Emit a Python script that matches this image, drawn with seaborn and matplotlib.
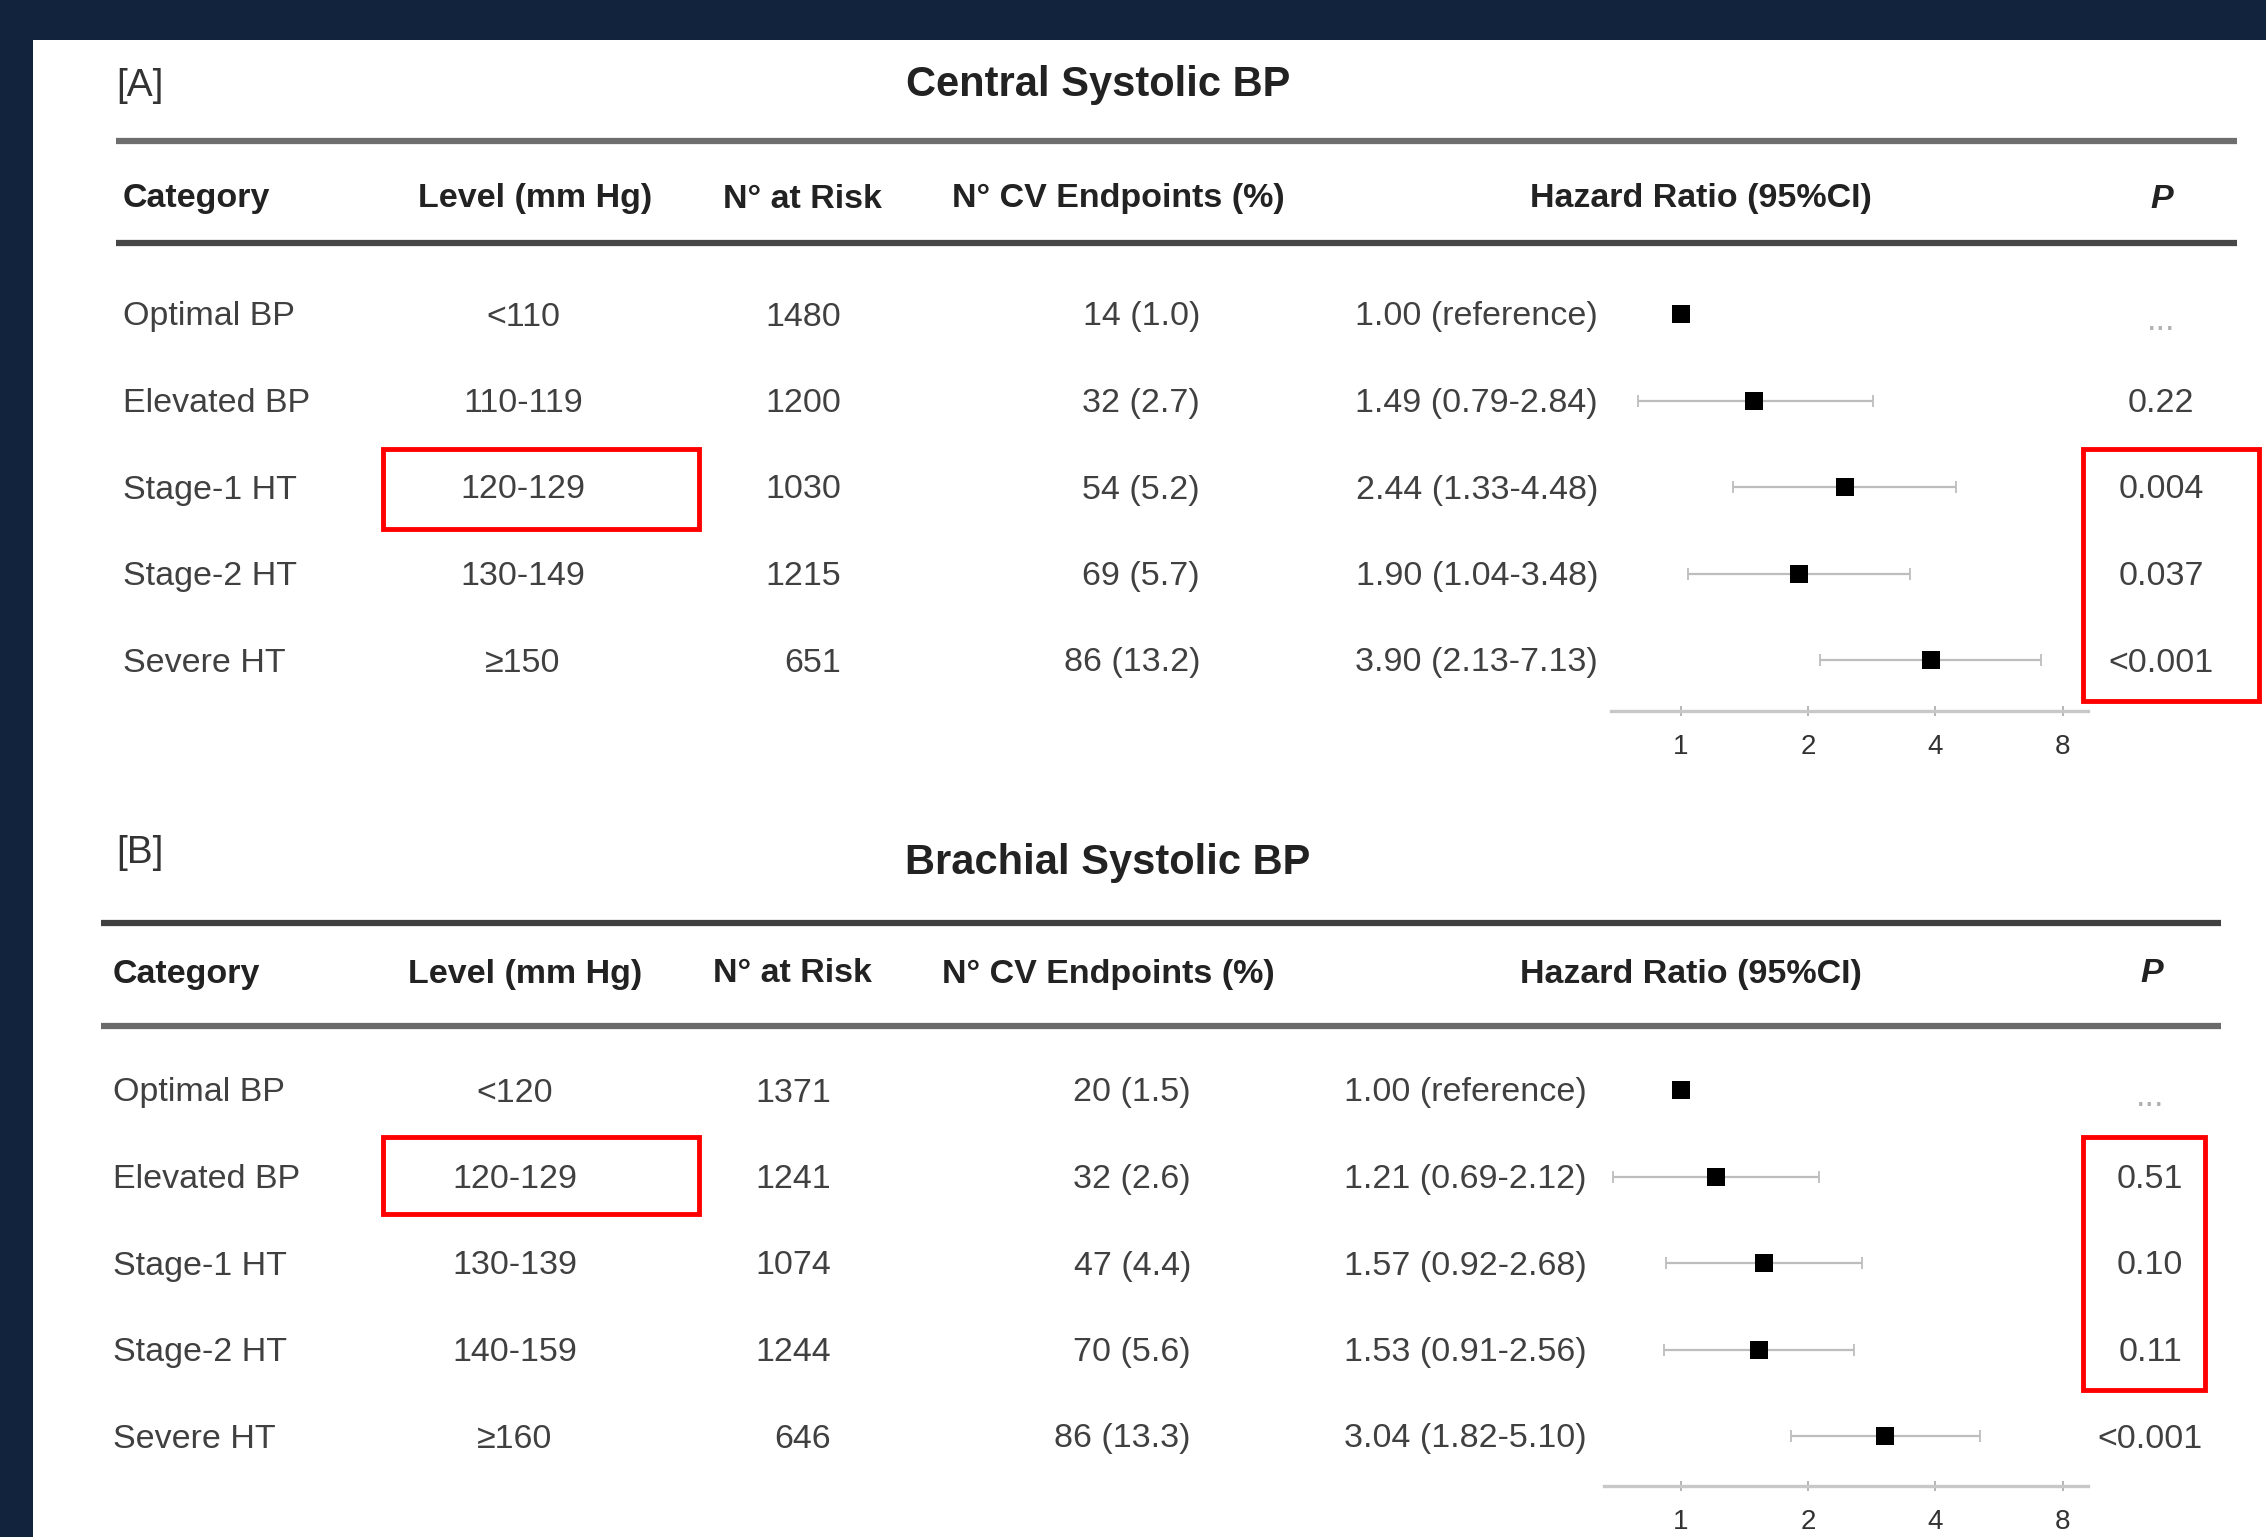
import numpy as np
import pandas as pd
import matplotlib
matplotlib.use("Agg")
import matplotlib.pyplot as plt
import seaborn as sns
from matplotlib.patches import Rectangle

# ---------------- data ----------------
categories = ["Optimal BP", "Elevated BP", "Stage-1 HT", "Stage-2 HT", "Severe HT"]

levels_A = ["<110", "110-119", "120-129", "130-149", "\u2265150"]
n_risk_A = [1480, 1200, 1030, 1215, 651]
events_A = ["14 (1.0)", "32 (2.7)", "54 (5.2)", "69 (5.7)", "86 (13.2)"]
hr_A = [1.00, 1.49, 2.44, 1.90, 3.90]
lo_A = [np.nan, 0.79, 1.33, 1.04, 2.13]
hi_A = [np.nan, 2.84, 4.48, 3.48, 7.13]
p_A = ["...", "0.22", "0.004", "0.037", "<0.001"]

levels_B = ["<120", "120-129", "130-139", "140-159", "\u2265160"]
n_risk_B = [1371, 1241, 1074, 1244, 646]
events_B = ["20 (1.5)", "32 (2.6)", "47 (4.4)", "70 (5.6)", "86 (13.3)"]
hr_B = [1.00, 1.21, 1.57, 1.53, 3.04]
lo_B = [np.nan, 0.69, 0.92, 0.91, 1.82]
hi_B = [np.nan, 2.12, 2.68, 2.56, 5.10]
p_B = ["...", "0.51", "0.10", "0.11", "<0.001"]

headers = ["Category", "Level (mm Hg)", "N\u00b0 at Risk", "N\u00b0 CV Endpoints (%)",
           "Hazard Ratio (95%CI)", "P"]
hr_ticks = [1, 2, 4, 8]
titles = ["Central Systolic BP", "Brachial Systolic BP"]
panel_labels = ["[A]", "[B]"]

# ---------------- style ----------------
sns.set_theme(style="white")
plt.rcParams["font.family"] = ["Liberation Sans", "DejaVu Sans"]

W, H = 2266, 1537
DPI = 100
fig = plt.figure(figsize=(W / DPI, H / DPI), dpi=DPI)
fig.patch.set_facecolor("#12233d")

bg = fig.add_axes([0, 0, 1, 1])
bg.set_xlim(0, W)
bg.set_ylim(H, 0)
bg.axis("off")
bg.add_patch(Rectangle((33, 40), W - 33, H - 40, facecolor="white", edgecolor="none", zorder=0))

BODY = 24.5
HEAD = 24.5
TXT = "#404040"
YOFF = 3


def hr_text(h, l, u):
    if np.isnan(l):
        return f"{h:.2f} (reference)"
    return f"{h:.2f} ({l:.2f}-{u:.2f})"


def panel(spec):
    dx = spec["dx"]
    bg.text(116, spec["lab_y"], spec["label"], fontsize=28, color="#333333",
            ha="left", va="center")
    bg.text(spec["title_x"], spec["title_y"], spec["title"], fontsize=30,
            fontweight="bold", color="#222222", ha="center", va="center")
    bg.plot([spec["rule_x0"], spec["rule_x1"]], [spec["rule1"]] * 2,
            color=spec["c1"], lw=4.5, solid_capstyle="butt", zorder=2)
    bg.plot([spec["rule_x0"], spec["rule_x1"]], [spec["rule2"]] * 2,
            color=spec["c2"], lw=4.5, solid_capstyle="butt", zorder=2)
    hx = [123 + dx, 535 + dx, 802 + dx, 1118 + dx, 1701 + dx, 2162 + dx]
    has = ["left", "center", "center", "center", "center", "center"]
    for h, x, a in zip(headers, hx, has):
        bg.text(x, spec["head_y"] + YOFF, h, fontsize=HEAD, fontweight="bold",
                fontstyle="italic" if h == "P" else "normal",
                color="#222222", ha=a, va="center")
    rows_y = [spec["row0"] + i * spec["step"] for i in range(len(categories))]
    for i, y in enumerate(rows_y):
        yt = y + YOFF
        bg.text(123 + dx, yt, categories[i], fontsize=BODY, color=TXT, ha="left", va="center")
        bg.text(spec["lvl_x"], yt, spec["levels"][i], fontsize=BODY, color=TXT, ha="center", va="center")
        bg.text(spec["n_x"], yt, str(spec["n"][i]), fontsize=BODY, color=TXT, ha="right", va="center")
        bg.text(spec["ev_x"], yt, spec["events"][i], fontsize=BODY, color=TXT, ha="right", va="center")
        bg.text(spec["hrt_x"], yt, hr_text(spec["hr"][i], spec["lo"][i], spec["hi"][i]),
                fontsize=BODY, color=TXT, ha="right", va="center")
        pv = spec["p"][i]
        bg.text(spec["p_x"], yt + (5 if pv == "..." else 0), pv, fontsize=BODY,
                color="#b0b0b0" if pv == "..." else TXT, ha="center", va="center")
    for (x0, y0, x1, y1) in spec["boxes"]:
        bg.add_patch(Rectangle((x0, y0), x1 - x0, y1 - y0, facecolor="none",
                               edgecolor="#ff0000", lw=3.5, zorder=5))
    # forest plot
    fx0, fx1 = spec["fx0"], spec["fx1"]
    top_px = spec["row0"] - 0.6 * spec["step"]
    bot_px = spec["axis_y"]
    ax = fig.add_axes([fx0 / W, 1 - bot_px / H, (fx1 - fx0) / W, (bot_px - top_px) / H])
    ax.patch.set_alpha(0)
    df = pd.DataFrame({"hr": spec["hr"], "lo": spec["lo"], "hi": spec["hi"],
                       "row": np.arange(len(categories))})
    ci = df.dropna()
    ax.errorbar(ci["hr"], ci["row"], xerr=[ci["hr"] - ci["lo"], ci["hi"] - ci["hr"]],
                fmt="none", ecolor="#bdbdbd", elinewidth=1.6, capsize=4, capthick=1.3, zorder=1)
    sns.scatterplot(data=df, x="hr", y="row", marker="s", s=150, color="black",
                    edgecolor="black", linewidth=0, ax=ax, legend=False, zorder=3)
    ax.set_xscale("log", base=2)
    ppd = 127.2  # pixels per doubling, HR=1 at x=1681 px
    ax.set_xlim(2 ** ((fx0 - 1681) / ppd), 2 ** ((fx1 - 1681) / ppd))
    ax.set_ylim((bot_px - spec["row0"]) / spec["step"], -0.6)
    ax.set_xticks(hr_ticks)
    ax.set_xticklabels([str(t) for t in hr_ticks])
    ax.minorticks_off()
    ax.set_yticks([])
    ax.set_xlabel("")
    ax.set_ylabel("")
    for s in ["top", "left", "right"]:
        ax.spines[s].set_visible(False)
    ax.spines["bottom"].set_color("#c8c8c8")
    ax.spines["bottom"].set_linewidth(2.4)
    ax.tick_params(axis="x", direction="inout", length=7, width=1.2, color="#a8a8a8",
                   labelsize=20, labelcolor="#333333", pad=13, bottom=True)


panel(dict(dx=0, label=panel_labels[0], lab_y=86, title=titles[0], title_x=1098, title_y=85,
           rule_x0=116, rule_x1=2237, rule1=141, rule2=243, c1="#6e6e6e", c2="#474747",
           head_y=196, row0=314, step=86.5, lvl_x=523, n_x=841, ev_x=1200, hrt_x=1598, p_x=2161,
           levels=levels_A, n=n_risk_A, events=events_A, hr=hr_A, lo=lo_A, hi=hi_A, p=p_A,
           boxes=[(383, 449, 699, 529), (2083, 449, 2259, 701)],
           fx0=1611, fx1=2088, axis_y=711))

panel(dict(dx=-10, label=panel_labels[1], lab_y=853, title=titles[1], title_x=1108, title_y=863,
           rule_x0=101, rule_x1=2221, rule1=923, rule2=1026, c1="#404040", c2="#6a6a6a",
           head_y=971, row0=1090, step=86.5, lvl_x=515, n_x=831, ev_x=1191, hrt_x=1587, p_x=2150,
           levels=levels_B, n=n_risk_B, events=events_B, hr=hr_B, lo=lo_B, hi=hi_B, p=p_B,
           boxes=[(383, 1137, 699, 1214), (2083, 1137, 2205, 1390)],
           fx0=1604, fx1=2088, axis_y=1486))

fig.savefig("out.png", dpi=DPI, facecolor=fig.get_facecolor())
